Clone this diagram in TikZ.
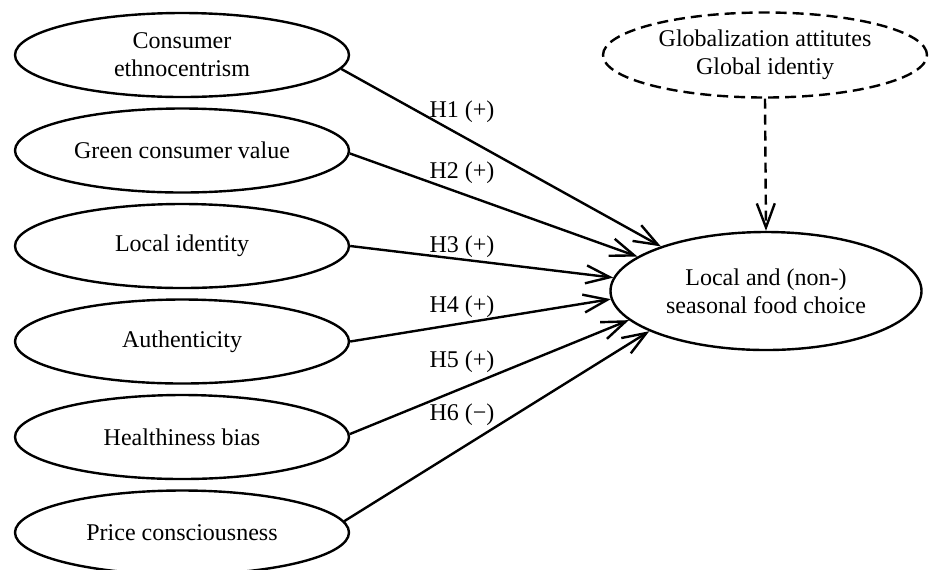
\documentclass[tikz,border=0pt]{standalone}
\usepackage{fontspec}
\setmainfont{Liberation Serif}
\usepackage{tikz}
\usetikzlibrary{shapes.geometric,arrows.meta}

\tikzset{
  construct/.style={ellipse, draw, line width=1.2pt, minimum width=167pt, minimum height=42pt, inner sep=0pt, align=center},
  outcome/.style={construct, minimum width=155.5pt, minimum height=59pt},
  moderator/.style={construct, dash pattern=on 5.5pt off 3pt, minimum width=162pt, minimum height=42.5pt},
  hyp/.style={line width=1.2pt, black, -{Straight Barb[length=12pt,width=9pt]}},
  hyplabel/.style={inner sep=0pt}
}

\begin{document}
\begin{tikzpicture}[x=0.5pt, y=-0.5pt, font=\fontsize{12}{14}\selectfont]
            \useasboundingbox (0,0) rectangle (930,569);

            % antecedents
            \node[construct] (ethno)  at (182,55)    {Consumer\\ethnocentrism};
            \node[construct] (green)  at (182,150.5) {Green consumer value};
            \node[construct] (local)  at (182,246)   {Local identity};
            \node[construct] (auth)   at (182,341.5) {Authenticity};
            \node[construct] (health) at (182,437)   {Healthiness bias};
            \node[construct] (price)  at (182,532.5) {Price consciousness};

            % outcome and moderator
            \node[outcome] (choice) at (766,291) {Local and (non-)\\seasonal food choice};
            \node[moderator] (glob) at (765,55) {Globalization attitutes\\Global identiy};

            % hypotheses
            \draw[hyp] (ethno.-5.5) -- (choice.157);
            \draw[hyp] (green.-1)   -- (choice.165);
            \draw[hyp] (local.east) -- (choice.175);
            \draw[hyp] (auth.east)  -- (choice.-177);
            \draw[hyp] (health.1)   -- (choice.-168.5);
            \draw[hyp] (price.4.6)  -- (choice.-161.5);

            % moderating effect
            \draw[hyp, dash pattern=on 5pt off 3pt] (glob.south) -- (choice.north);

            % labels
            \node[hyplabel] (h1) at (462,112) {H1 (+)};
            \node[hyplabel] (h2) at (462,173) {H2 (+)};
            \node[hyplabel] (h3) at (462,247) {H3 (+)};
            \node[hyplabel] (h4) at (462,307) {H4 (+)};
            \node[hyplabel] (h5) at (462,362) {H5 (+)};
            \node[hyplabel] (h6) at (462,415) {H6 (−)};
\end{tikzpicture}
\end{document}
